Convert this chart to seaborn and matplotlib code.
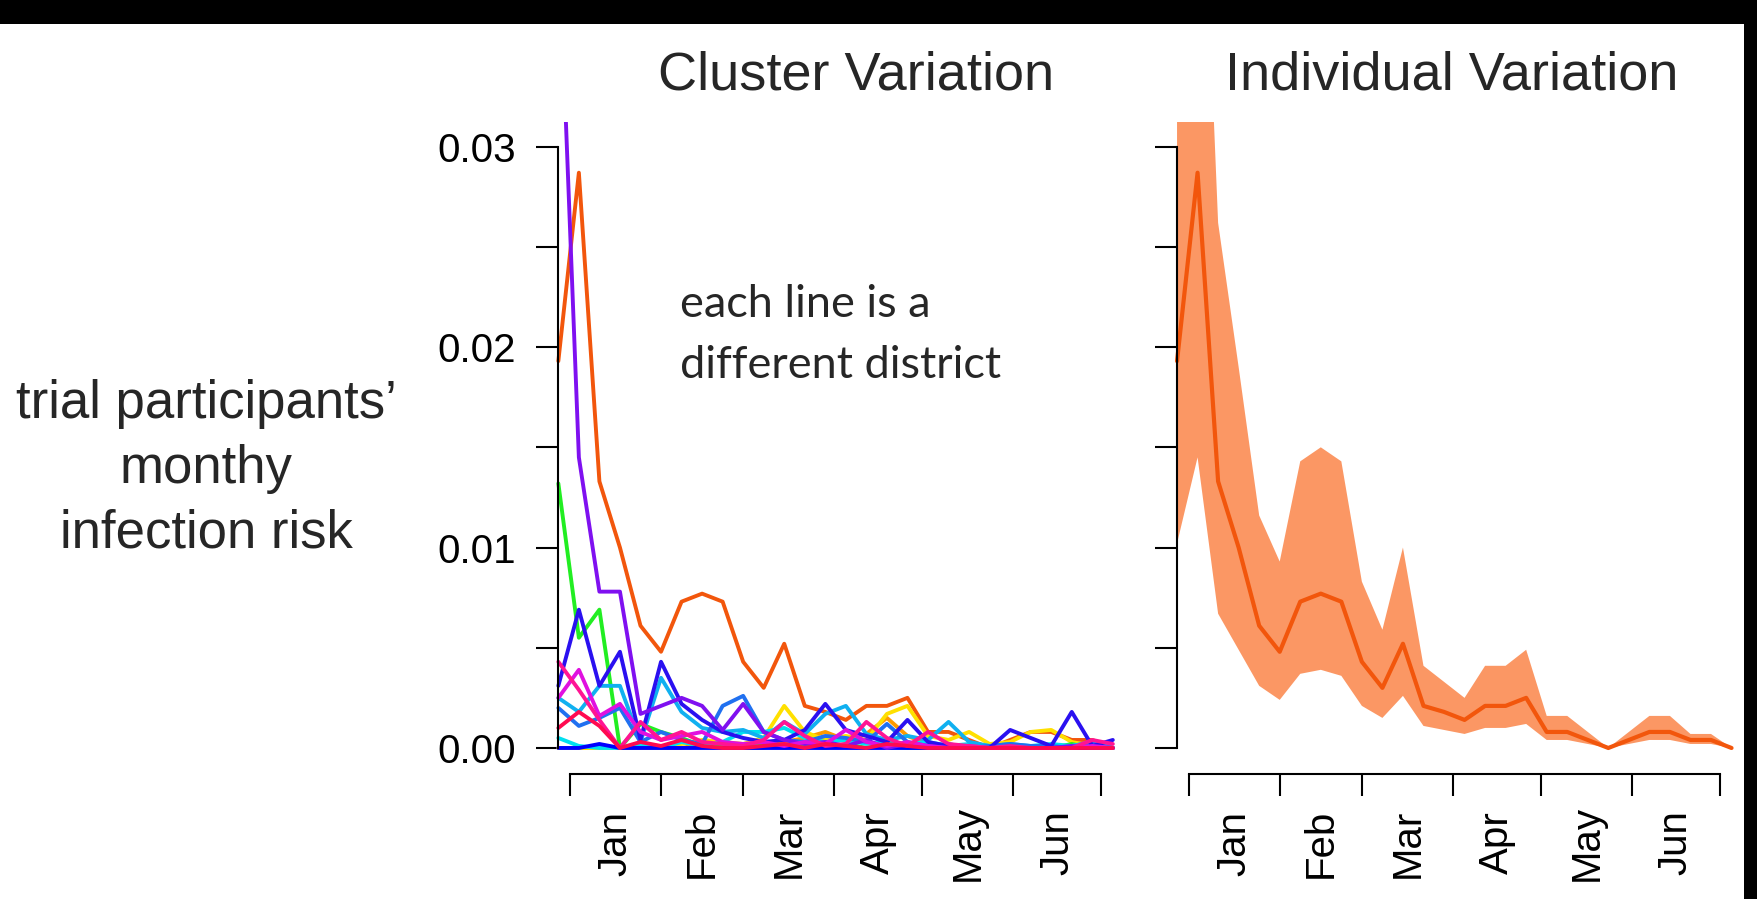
import numpy as np
import pandas as pd
import matplotlib
matplotlib.use("Agg")
import matplotlib.pyplot as plt
import matplotlib.dates as mdates
from matplotlib import font_manager
from matplotlib.patches import Rectangle
from matplotlib.ticker import FixedLocator, FixedFormatter, NullFormatter
import seaborn as sns

# ---------------- data ----------------
months = ["Jan", "Feb", "Mar", "Apr", "May", "Jun"]
week_dates = pd.date_range("2013-12-28", periods=28, freq="7D")
month_starts = pd.date_range("2014-01-01", "2014-07-01", freq="MS")

orange_main = [0.0193, 0.0287, 0.0133, 0.0100, 0.0061, 0.0048, 0.0073, 0.0077, 0.0073, 0.0043,
               0.0030, 0.0052, 0.0021, 0.0018, 0.0014, 0.0021, 0.0021, 0.0025, 0.0008, 0.0008,
               0.0004, 0.0, 0.0004, 0.0008, 0.0008, 0.0004, 0.0004, 0.0]
band_upper = [0.040, 0.051, 0.0262, 0.0190, 0.0116, 0.0093, 0.0143, 0.0150, 0.0143, 0.0083,
              0.0059, 0.0100, 0.0041, 0.0033, 0.0025, 0.0041, 0.0041, 0.0049, 0.0016, 0.0016,
              0.0008, 0.0, 0.0008, 0.0016, 0.0016, 0.0007, 0.0007, 0.0]
band_lower = [0.0102, 0.0145, 0.0067, 0.0049, 0.0031, 0.0024, 0.0037, 0.0039, 0.0036, 0.0021,
              0.0015, 0.0026, 0.0011, 0.0009, 0.0007, 0.0010, 0.0010, 0.0012, 0.0004, 0.0004,
              0.0002, 0.0, 0.0002, 0.0004, 0.0004, 0.0002, 0.0002, 0.0]

dark_orange = [0, 0, 0, 0, 0, 0, 0, 0.0002, 0.0001, 0, 0, 0.0003, 0.0005, 0.0008, 0.0004, 0.0007,
               0.0015, 0.0006, 0.0002, 0, 0, 0, 0, 0, 0, 0, 0, 0]
yellow = [0, 0, 0, 0, 0, 0, 0.0002, 0.0004, 0.0003, 0.0002, 0.0005, 0.0021, 0.0008, 0.0004, 0.0006,
          0.0004, 0.0017, 0.0021, 0.0006, 0.0004, 0.0008, 0.0002, 0.0003, 0.0008, 0.0009, 0.0003,
          0.0001, 0]
green = [0.0132, 0.0055, 0.0069, 0.0, 0.0012, 0.0008, 0.0005, 0.0001, 0.0002, 0.0001, 0.0002, 0.0,
         0.0001, 0.0, 0.0002, 0.0, 0.0001, 0.0, 0.0, 0.0, 0.0, 0.0, 0.0, 0.0, 0.0, 0.0002, 0.0, 0.0]
cyan = [0.0005, 0.0001, 0.0, 0.0, 0.0002, 0.0, 0.0003, 0.0001, 0.0003, 0.0008, 0.0008, 0.0010,
        0.0005, 0.0003, 0.0004, 0.0002, 0.0003, 0.0002, 0.0003, 0.0001, 0.0002, 0.0001, 0.0,
        0.0001, 0.0002, 0.0001, 0.0003, 0.0]
sky = [0.0025, 0.0018, 0.0031, 0.0031, 0.0003, 0.0035, 0.0018, 0.0010, 0.0008, 0.0009, 0.0005,
       0.0013, 0.0007, 0.0017, 0.0021, 0.0007, 0.0004, 0.0006, 0.0004, 0.0013, 0.0003, 0.0001,
       0.0002, 0.0001, 0.0, 0.0001, 0.0003, 0.0]
dodger = [0.0020, 0.0011, 0.0015, 0.0020, 0.0003, 0.0008, 0.0004, 0.0002, 0.0021, 0.0026, 0.0008,
          0.0004, 0.0003, 0.0006, 0.0005, 0.0003, 0.0012, 0.0003, 0.0001, 0.0002, 0.0, 0.0001,
          0.0002, 0.0001, 0.0001, 0.0, 0.0002, 0.0]
blue = [0.0031, 0.0069, 0.0031, 0.0048, 0.0004, 0.0043, 0.0022, 0.0014, 0.0008, 0.0005, 0.0003,
        0.0004, 0.0009, 0.0022, 0.0009, 0.0006, 0.0003, 0.0014, 0.0003, 0.0001, 0.0, 0.0, 0.0009,
        0.0005, 0.0001, 0.0018, 0.0001, 0.0004]
blue_low = [0, 0, 0.0002, 0, 0, 0, 0, 0, 0, 0, 0, 0, 0, 0, 0, 0, 0, 0, 0, 0, 0, 0, 0, 0, 0, 0, 0, 0]
violet = [0.041, 0.0145, 0.0078, 0.0078, 0.0017, 0.0021, 0.0025, 0.0021, 0.0009, 0.0022, 0.0008,
          0.0004, 0.0002, 0.0003, 0.0001, 0.0004, 0.0, 0.0002, 0.0001, 0, 0, 0, 0, 0, 0, 0.0001, 0, 0]
magenta = [0.0025, 0.0039, 0.0016, 0.0022, 0.0008, 0.0004, 0.0006, 0.0008, 0.0003, 0.0002, 0.0003,
           0.0001, 0.0003, 0.0002, 0.0009, 0.0003, 0.0001, 0.0003, 0.0001, 0.0, 0.0001, 0.0, 0.0,
           0.0, 0.0, 0.0, 0.0001, 0.0]
pink = [0.0043, 0.0029, 0.0014, 0.0, 0.0013, 0.0004, 0.0008, 0.0003, 0.0002, 0.0001, 0.0004,
        0.0013, 0.0006, 0.0001, 0.0002, 0.0013, 0.0005, 0.0001, 0.0008, 0.0002, 0.0001, 0.0,
        0.0001, 0.0, 0.0, 0.0, 0.0004, 0.0002]
crimson = [0.0010, 0.0018, 0.0011, 0.0, 0.0003, 0.0001, 0.0004, 0.0001, 0.0, 0.0, 0.0001, 0.0002,
           0.0, 0.0002, 0.0001, 0.0, 0.0002, 0.0001, 0.0, 0.0, 0.0, 0.0, 0.0, 0.0, 0.0, 0.0, 0.0, 0.0]

districts = {
    "D01": (orange_main, "#F2560C"),
    "D02": (dark_orange, "#FF9A00"),
    "D03": (yellow, "#FFE000"),
    "D04": (green, "#22EE22"),
    "D05": (cyan, "#00E0F0"),
    "D06": (sky, "#10B0F0"),
    "D07": (dodger, "#2070F0"),
    "D08": (blue, "#2A10F0"),
    "D09": (blue_low, "#0000FF"),
    "D10": (violet, "#7F10F0"),
    "D11": (magenta, "#E010E0"),
    "D12": (pink, "#FF1493"),
    "D13": (crimson, "#FF0A50"),
}

band_color = "#FB9764"
main_color = "#F2560C"

# ---------------- figure ----------------
sns.set_theme(style="white")
plt.rcParams["font.family"] = ["Liberation Sans", "DejaVu Sans"]

installed = {f.name for f in font_manager.fontManager.ttflist}
if "Liberation Sans Narrow" in installed:
    title_family, title_size = ["Liberation Sans Narrow", "Liberation Sans"], 47
else:
    title_family, title_size = ["Liberation Sans", "DejaVu Sans"], 39

W, H = 1758, 899
fig = plt.figure(figsize=(W / 100, H / 100), dpi=100, facecolor="white")

def add_px_axes(x0, x1, ytop, ybot):
    return fig.add_axes([x0 / W, 1 - ybot / H, (x1 - x0) / W, (ybot - ytop) / H])

axL = add_px_axes(555.4, 1118.7, 122.0, 756.0)
axR = add_px_axes(1174.1, 1737.4, 122.0, 756.0)

rows = []
for name, (vals, col) in districts.items():
    for d, v in zip(week_dates, vals):
        rows.append({"date": d, "risk": v, "district": name})
df = pd.DataFrame(rows)
palette = {k: c for k, (v, c) in districts.items()}

sns.lineplot(data=df, x="date", y="risk", hue="district", hue_order=list(districts.keys()),
             palette=palette, estimator=None, sort=False, linewidth=2.8, legend=False, ax=axL)

axR.fill_between(week_dates, band_lower, band_upper, color=band_color, linewidth=0)
sns.lineplot(x=week_dates, y=orange_main, color=main_color, linewidth=3.0, ax=axR,
             estimator=None, sort=False)

x0 = week_dates[0] - pd.Timedelta(days=1)
x1 = month_starts[0] + pd.Timedelta(days=187)
mids = [month_starts[i] + (month_starts[i + 1] - month_starts[i]) / 2 for i in range(6)]
yt = [0, 0.005, 0.01, 0.015, 0.02, 0.025, 0.03]
ytl = ["0.00", "", "0.01", "", "0.02", "", "0.03"]

for ax, show_y in ((axL, True), (axR, False)):
    ax.set_xlim(x0, x1)
    ax.set_ylim(-0.0004, 0.03123)
    ax.set_xlabel("")
    ax.set_ylabel("")
    ax.patch.set_alpha(0)
    for s in ("top", "right"):
        ax.spines[s].set_visible(False)
    ax.spines["left"].set_position(("data", mdates.date2num(week_dates[0])))
    ax.spines["left"].set_bounds(0, 0.03)
    ax.spines["bottom"].set_position(("outward", 12.96))
    ax.spines["bottom"].set_bounds(mdates.date2num(month_starts[0]), mdates.date2num(month_starts[-1]))
    for s in ("left", "bottom"):
        ax.spines[s].set_linewidth(1.5)
        ax.spines[s].set_color("black")
    ax.yaxis.set_major_locator(FixedLocator(yt))
    ax.yaxis.set_major_formatter(FixedFormatter(ytl if show_y else [""] * len(yt)))
    ax.tick_params(axis="y", which="major", left=True, length=15.8, width=1.5, pad=15,
                   labelsize=29, colors="black", direction="out")
    ax.xaxis.set_major_locator(FixedLocator(mdates.date2num(month_starts)))
    ax.xaxis.set_major_formatter(NullFormatter())
    ax.xaxis.set_minor_locator(FixedLocator(mdates.date2num(pd.DatetimeIndex(mids))))
    ax.xaxis.set_minor_formatter(FixedFormatter(months))
    ax.tick_params(axis="x", which="major", bottom=True, length=15.8, width=1.5,
                   colors="black", direction="out")
    ax.tick_params(axis="x", which="minor", bottom=True, length=0, pad=49.7,
                   labelsize=29, labelrotation=90, colors="black")
    for lab in ax.get_xticklabels(minor=True):
        lab.set_va("center")
    ax.grid(False)

# titles & labels
fig.text(856 / W, 1 - 90 / H, "Cluster Variation", ha="center", va="baseline",
         fontsize=title_size, family=title_family)
fig.text(1452 / W, 1 - 90 / H, "Individual Variation", ha="center", va="baseline",
         fontsize=title_size, family=title_family)
for txt, yb in (("trial participants\u2019", 418), ("monthy", 483), ("infection risk", 548)):
    fig.text(206 / W, 1 - yb / H, txt, ha="center", va="baseline", fontsize=38)
fig.text(680 / W, 1 - 317 / H, "each line is a", ha="left", va="baseline", fontsize=32.5,
         family=["Lato", "DejaVu Sans"])
fig.text(680 / W, 1 - 378 / H, "different district", ha="left", va="baseline", fontsize=32.5,
         family=["Lato", "DejaVu Sans"])

# black frame strips of the screenshot
fig.add_artist(Rectangle((0, 1 - 24 / H), 1, 24 / H, transform=fig.transFigure,
                         facecolor="black", edgecolor="none", zorder=20))
fig.add_artist(Rectangle((1744 / W, 0), 14 / W, 1, transform=fig.transFigure,
                         facecolor="black", edgecolor="none", zorder=20))

fig.savefig("out.png", dpi=100, facecolor="white")
